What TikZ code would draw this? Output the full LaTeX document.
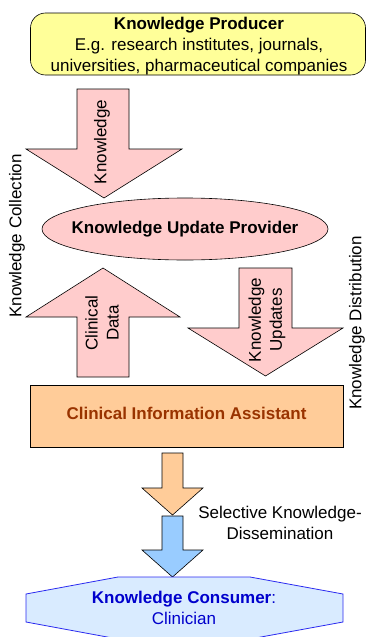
\documentclass[tikz,border=0pt]{standalone}
\usepackage{fontspec}
\setmainfont{Liberation Sans}
\usetikzlibrary{shapes.geometric}
\definecolor{yel}{HTML}{FFFF99}
\definecolor{pinkf}{HTML}{FFCCCC}
\definecolor{orf}{HTML}{FFCC99}
\definecolor{bluef}{HTML}{99CCFF}
\definecolor{hexf}{HTML}{D9EBFF}
\definecolor{hexd}{HTML}{2A2AF0}
\definecolor{ciatext}{HTML}{993300}
\definecolor{context}{HTML}{0000CC}
\tikzset{
  txt/.style={font=\fontsize{17}{21}\selectfont, inner sep=0pt, align=center},
  blk/.style={draw=black, line width=0.6pt, line join=miter},
}
\begin{document}
\begin{tikzpicture}[x=1pt,y=-1pt]
\useasboundingbox (0,0) rectangle (366,637);
% Producer
\draw[blk, fill=yel, rounded corners=15pt] (30.5,13) rectangle (365.5,75);
\node[txt] (prod) at (199,46) {\textbf{Knowledge Producer}\\E.g. research institutes, journals,\\universities, pharmaceutical companies};
% Arrow 1 down
\draw[blk, fill=pinkf] (77,89) -- (129,89) -- (129,149) -- (182,149) -- (104,198) -- (26,149) -- (77,149) -- cycle;
\node[txt, rotate=90] (kn) at (102,142) {Knowledge};
% Ellipse
\node[ellipse, draw=black, line width=0.6pt, fill=pinkf, minimum width=286pt, minimum height=62pt, inner sep=0pt] (kup) at (185,229) {};
\node[txt] at (kup.center) {\textbf{Knowledge Update Provider}};
% Arrow 2 up
\draw[blk, fill=pinkf] (77,377) -- (129,377) -- (129,317) -- (180,317) -- (103,268) -- (26,317) -- (77,317) -- cycle;
\node[txt, rotate=90] (cd) at (102,323) {Clinical\\Data};
% Arrow 3 down
\draw[blk, fill=pinkf] (239,268) -- (292,268) -- (292,328) -- (343,328) -- (265.5,376) -- (188,328) -- (239,328) -- cycle;
\node[txt, rotate=90] (ku) at (267,320) {Knowledge\\Updates};
% side labels
\node[txt, rotate=90] (kc) at (17,236) {Knowledge Collection};
\node[txt, rotate=90] (kd) at (357,323) {Knowledge Distribution};
% CIA
\draw[blk, fill=orf] (30,385) rectangle (343,447);
\node[txt, text=ciatext] (cia) at (186.5,413) {\textbf{Clinical Information Assistant}};
% Arrow 4 orange
\draw[blk, fill=orf] (162,453) -- (183,453) -- (183,488) -- (203,488) -- (172.5,515) -- (142,488) -- (162,488) -- cycle;
% Arrow 5 blue
\draw[blk, fill=bluef] (162,516) -- (183,516) -- (183,550) -- (203,550) -- (172.5,577) -- (142,550) -- (162,550) -- cycle;
\node[txt] (sel) at (280,523) {Selective Knowledge-\\Dissemination};
% Consumer
\draw[draw=hexd, line width=0.8pt, fill=hexf] (26,594) -- (118,577) -- (250,577) -- (343,594) -- (343,622) -- (250,639) -- (118,639) -- (26,622) -- cycle;
\node[txt, text=context] (cons) at (184,608) {\textbf{Knowledge Consumer}:\\Clinician};
\end{tikzpicture}
\end{document}
